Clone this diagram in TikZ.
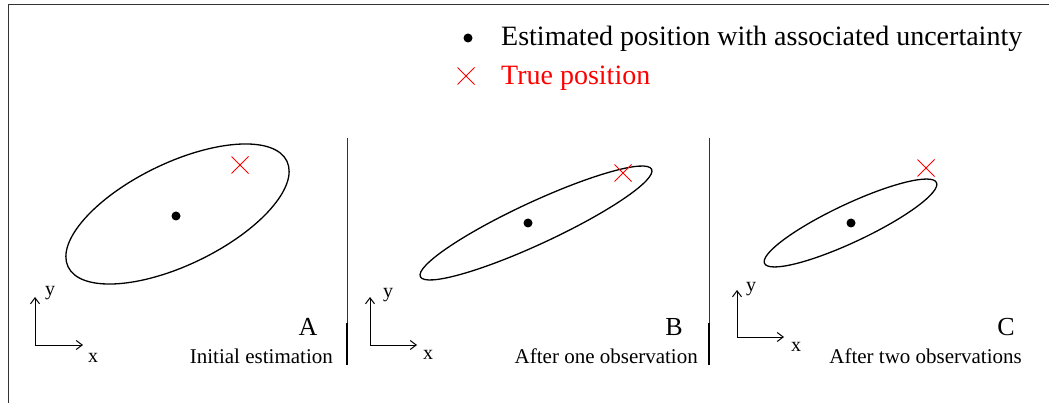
\documentclass[tikz,border=0pt]{standalone}
\usepackage{fontspec}
\setmainfont{Liberation Serif}
\usetikzlibrary{arrows.meta,shapes.geometric,shapes.misc}
\definecolor{truered}{HTML}{FF0000}
\definecolor{framegray}{HTML}{333333}

\begin{document}
\begin{tikzpicture}[x=1pt, y=-1pt,
  frameline/.style={framegray, line width=1pt},
  sepline/.style={framegray, line width=1pt},
  sepfoot/.style={black, line width=2.2pt},
  covell/.style={draw=black, ellipse, line width=1.3pt, inner sep=0pt},
  estdot/.style={circle, fill=black, inner sep=0pt, minimum size=9pt},
  truex/.style={cross out, draw=truered, line width=1pt, inner sep=0pt, minimum size=16pt},
  legtxt/.style={font=\fontsize{28}{30}\selectfont, anchor=base west, inner sep=0pt},
  panlbl/.style={font=\fontsize{26}{28}\selectfont, anchor=base, inner sep=0pt},
  captxt/.style={font=\fontsize{21}{23}\selectfont, anchor=base east, inner sep=0pt},
  axlbl/.style={font=\fontsize{20}{22}\selectfont, anchor=base, inner sep=0pt},
  axarr/.style={-{Straight Barb[length=6pt,width=9pt]}, line width=1pt},
]
\useasboundingbox (0,0) rectangle (1049,403);

% Frame (top and left edges only)
\draw[frameline] (8,403) -- (8,5) -- (1049,5);

% Legend
\node[estdot] (legdot) at (468,38) {};
\node[legtxt] (legest) at (501,46) {Estimated position with associated uncertainty};
\node[truex] (legx) at (466,76) {};
\node[legtxt, text=truered] (legtrue) at (501,85) {True position};

% Panel separators (thin upper part, heavy foot)
\draw[sepline] (347,138) -- (347,323);
\draw[sepfoot] (347,323) -- (347,365);
\draw[sepline] (709,138) -- (709,323);
\draw[sepfoot] (709,323) -- (709,365);

% Panel A: initial estimation
\node[covell, minimum width=243pt, minimum height=102pt, rotate=25.8] (ellA) at (177.5,214) {};
\node[estdot] (estA) at (176,216) {};
\node[truex] (trueA) at (240,165) {};
\coordinate (oA) at (35,345);
\draw[axarr] (oA) -- ++(0,-48);
\draw[axarr] (oA) -- ++(48,0);
\node[axlbl] (yA) at (50,295) {y};
\node[axlbl] (xA) at (93,362) {x};
\node[panlbl] (labA) at (308,335) {A};
\node[captxt] (capA) at (333,363) {Initial estimation};

% Panel B: after one observation
\node[covell, minimum width=255pt, minimum height=42pt, rotate=24.9] (ellB) at (536,223) {};
\node[estdot] (estB) at (528,223) {};
\node[truex] (trueB) at (623,173) {};
\coordinate (oB) at (370,345);
\draw[axarr] (oB) -- ++(0,-48);
\draw[axarr] (oB) -- ++(47,0);
\node[axlbl] (yB) at (388,298) {y};
\node[axlbl] (xB) at (428,359) {x};
\node[panlbl] (labB) at (674,335) {B};
\node[captxt] (capB) at (698,363) {After one observation};

% Panel C: after two observations
\node[covell, minimum width=190pt, minimum height=38pt, rotate=25.2] (ellC) at (850.5,223) {};
\node[estdot] (estC) at (851,223) {};
\node[truex] (trueC) at (926,168) {};
\coordinate (oC) at (737,337);
\draw[axarr] (oC) -- ++(0,-47);
\draw[axarr] (oC) -- ++(47,0);
\node[axlbl] (yC) at (751,291) {y};
\node[axlbl] (xC) at (796,351) {x};
\node[panlbl] (labC) at (1006,335) {C};
\node[captxt] (capC) at (1022,363) {After two observations};

\end{tikzpicture}
\end{document}
